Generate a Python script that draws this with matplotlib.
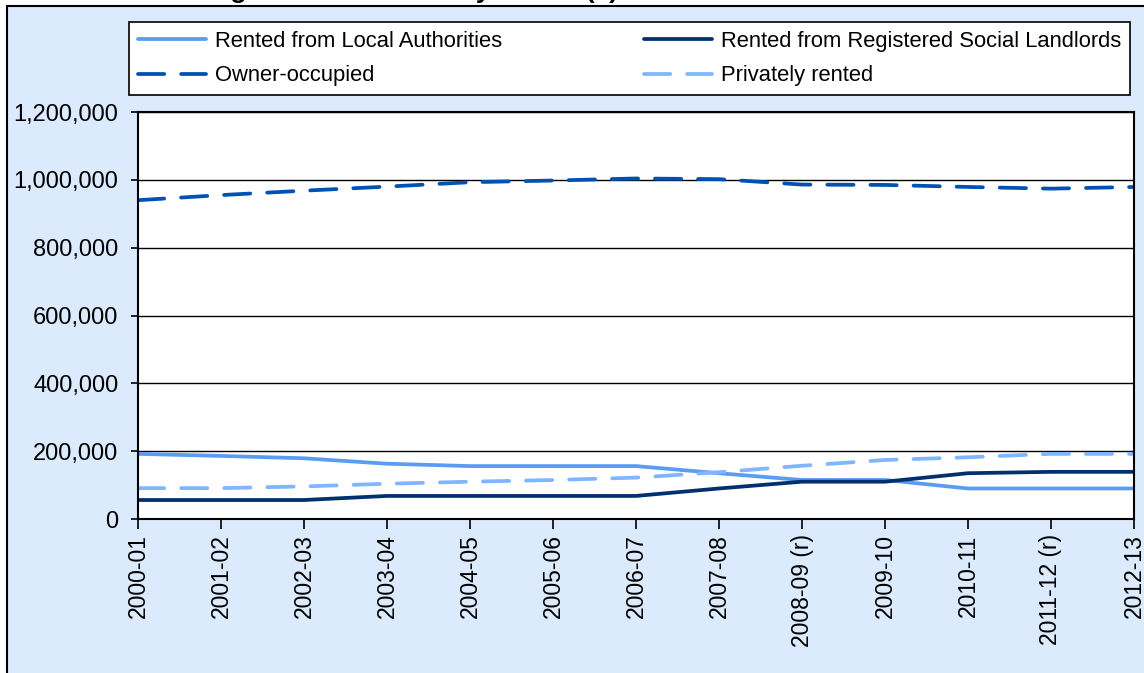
import matplotlib
matplotlib.use("Agg")
import matplotlib.pyplot as plt
from matplotlib.patches import Rectangle
from matplotlib.ticker import FuncFormatter

# data
years = ["2000-01", "2001-02", "2002-03", "2003-04", "2004-05", "2005-06", "2006-07",
         "2007-08", "2008-09 (r)", "2009-10", "2010-11", "2011-12 (r)", "2012-13"]
local_auth = [192000, 186000, 179000, 163000, 156000, 156000, 156000,
              135000, 115000, 115000, 90000, 90000, 90000]
rsl = [56000, 56000, 56000, 68000, 68000, 68000, 68000,
       90000, 110000, 110000, 135000, 139000, 139000]
owner_occ = [940000, 955000, 968000, 980000, 993000, 998000, 1004000,
             1002000, 986000, 985000, 979000, 974000, 979000]
private = [91000, 91000, 96000, 104000, 110000, 115000, 122000,
           138000, 157000, 174000, 182000, 192000, 192000]

W, H = 1144, 673
plt.rcParams['font.family'] = ['Liberation Sans', 'DejaVu Sans']

fig = plt.figure(figsize=(W / 100, H / 100), dpi=100)
fig.patch.set_facecolor('white')

# light blue chart frame (runs off the right and bottom edges)
frame = Rectangle((7 / W, -0.1), 1.2, 1 - 6 / H + 0.1, transform=fig.transFigure,
                  facecolor='#DBEAFD', edgecolor='black', linewidth=1.5, zorder=-10)
fig.patches.append(frame)

# clipped title, only descenders show in the original
fig.text(138 / W, 1 + 2 / H, "Dwelling stock estimates by tenure (a)",
         fontsize=19, fontweight='bold', ha='left', va='baseline')

ax = fig.add_axes([138 / W, 1 - 519 / H, (1134 - 138) / W, (519 - 112) / H])
ax.set_facecolor('white')

x = list(range(len(years)))
lw = 2.7
l1, = ax.plot(x, local_auth, color='#5A9CF2', lw=lw, solid_capstyle='round',
              label='Rented from Local Authorities')
l2, = ax.plot(x, rsl, color='#00306E', lw=lw, solid_capstyle='round',
              label='Rented from Registered Social Landlords')
l3, = ax.plot(x, owner_occ, color='#0052B2', lw=lw, dashes=(7, 4.5),
              dash_capstyle='round', label='Owner-occupied')
l4, = ax.plot(x, private, color='#80B6FF', lw=lw, dashes=(7, 4.5),
              dash_capstyle='round', label='Privately rented')

ax.set_xlim(0, len(years) - 1)
ax.set_ylim(0, 1200000)
ax.set_yticks(range(0, 1200001, 200000))
ax.yaxis.set_major_formatter(FuncFormatter(lambda v, p: "{:,}".format(int(v))))
ax.set_xticks(x)
ax.set_xticklabels(years, rotation=90)
ax.grid(axis='y', color='black', lw=1)
ax.set_axisbelow(True)
for s in ax.spines.values():
    s.set_color('black')
    s.set_linewidth(1.5)
ax.tick_params(axis='y', length=5, width=1.2, labelsize=17, pad=9)
ax.tick_params(axis='x', length=7, width=1.2, labelsize=16.5, pad=4)

# order gives rows: LA | RSL, Owner | Private
leg = fig.legend(handles=[l1, l3, l2, l4], ncol=2, loc='upper left',
                 bbox_to_anchor=(129 / W, 1 - 22 / H),
                 fontsize=15.8, frameon=True, fancybox=False, edgecolor='black',
                 facecolor='white', framealpha=1, handlelength=3.1, borderaxespad=0,
                 labelspacing=0.62, handletextpad=0.4, borderpad=0.4,
                 columnspacing=6.5)
leg.get_frame().set_linewidth(1.2)

fig.savefig("out.png", dpi=100)
